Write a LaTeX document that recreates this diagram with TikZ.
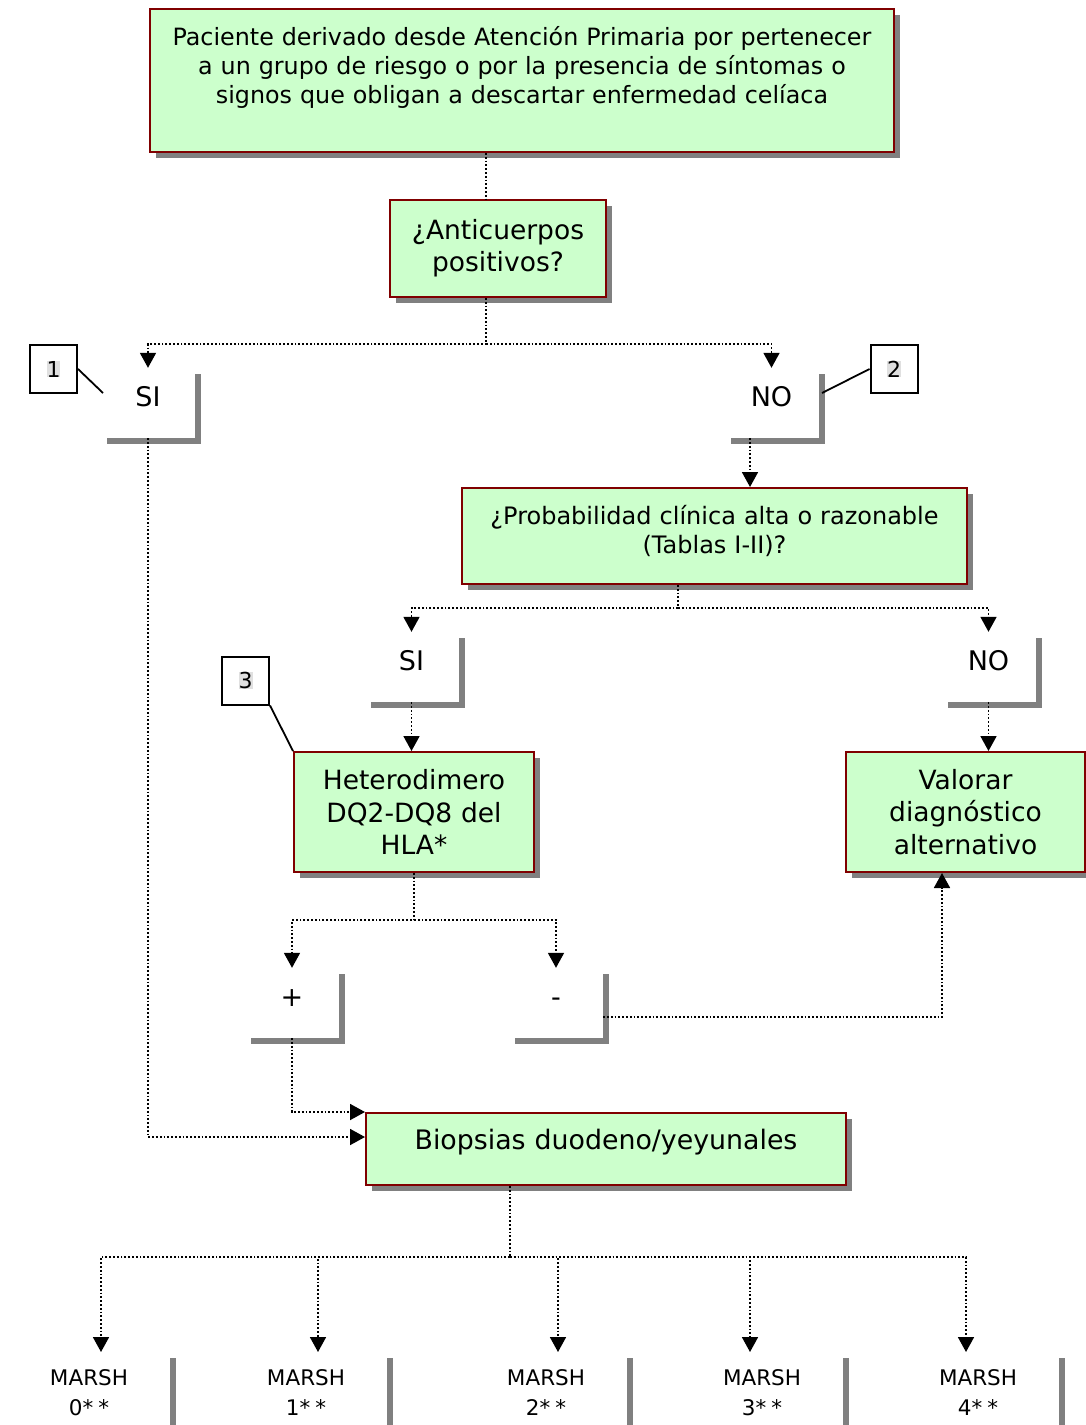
\documentclass[tikz,border=0pt]{standalone}
\usepackage{fontspec}
\setmainfont{DejaVu Sans}
\usetikzlibrary{arrows.meta,shadows}

\definecolor{boxgreen}{HTML}{CCFFCC}
\definecolor{boxred}{HTML}{800000}
\definecolor{shadowgray}{HTML}{808080}
\definecolor{hlgray}{HTML}{E0E0E0}

\newcommand{\numhl}[1]{{\setlength{\fboxsep}{0pt}\colorbox{hlgray}{#1}}}

\tikzset{
  boxshadow/.style={drop shadow={shadow xshift=6pt,shadow yshift=-6pt,fill=shadowgray,opacity=1}},
  box/.style={draw=boxred,fill=boxgreen,line width=2pt,align=center,inner sep=0pt,boxshadow},
  choice/.style={fill=white,minimum width=94pt,minimum height=70pt,inner sep=0pt,
    text height=19pt,text depth=13pt,font=\fontsize{27}{32}\selectfont,boxshadow},
  marsh/.style={fill=white,anchor=north,minimum width=162pt,minimum height=80pt,inner sep=0pt,
    align=center,font=\fontsize{21.5}{30}\selectfont,boxshadow},
  callout/.style={draw,fill=white,line width=2pt,minimum width=47pt,minimum height=48pt,
    inner sep=0pt,font=\fontsize{22}{24}\selectfont},
  dline/.style={dotted,line width=1.8pt},
  arr/.style={-{Triangle[width=16pt,length=15pt]}},
}

\begin{document}
\begin{tikzpicture}[x=1pt,y=-1pt]
\useasboundingbox (0,0) rectangle (1086,1425);

% boxes
\node[box,text width=744pt,minimum height=143pt,font=\fontsize{23.8}{29}\selectfont] (pac) at (522,80.5)
  {Paciente derivado desde Atención Primaria por pertenecer\\ a un grupo de riesgo o por la presencia de síntomas o\\ signos que obligan a descartar enfermedad celíaca\\[-6pt]\strut};
\node[box,text width=216pt,minimum height=97pt,font=\fontsize{26.5}{32}\selectfont] (anti) at (498,248.5) {¿Anticuerpos\\ positivos?};
\node[choice] (si1) at (148,403) {SI};
\node[choice] (no1) at (771.5,403) {NO};
\node[box,text width=505pt,minimum height=96pt,font=\fontsize{24}{29}\selectfont] (prob) at (714.5,536) {¿Probabilidad clínica alta o razonable\\ (Tablas I-II)?\\[-25pt]\strut};
\node[choice] (si2) at (411.5,667) {SI};
\node[choice] (no2) at (988.5,667) {NO};
\node[box,text width=240pt,minimum height=120pt,font=\fontsize{26.5}{32.5}\selectfont] (hla) at (414,812) {Heterodimero\\ DQ2-DQ8 del\\ HLA*};
\node[box,text width=239pt,minimum height=120pt,font=\fontsize{26.5}{32.5}\selectfont] (valor) at (965.5,812) {Valorar\\ diagnóstico\\ alternativo};
\node[choice] (pos) at (292,1003) {+};
\node[choice] (neg) at (556,1003) {-};
\node[box,text width=480pt,minimum height=72pt,font=\fontsize{26.8}{30}\selectfont] (biop) at (606,1149) {Biopsias duodeno/yeyunales\\[-19pt]\strut};
\foreach \n/\cx in {0/89,1/306,2/546,3/762,4/978}
  \node[marsh] (m\n) at (\cx,1352) {MARSH\\ \n*\hspace{5pt}*};

% callouts
\node[callout] (c1) at (53.5,369) {\numhl{1}};
\node[callout] (c2) at (894,369) {\numhl{2}};
\node[callout] (c3) at (245.5,680.5) {\numhl{3}};
\coordinate (t1) at (103,393);
\coordinate (t2) at (822,393);
\draw[line width=1.8pt] (c1.east) -- (t1);
\draw[line width=1.8pt] (c2.west) -- (t2);
\draw[line width=1.8pt] (c3.south east) -- (hla.north west);

% junctions
\coordinate (j1) at (486,344);
\coordinate (j2) at (678,608);
\coordinate (j3) at (414,920);
\coordinate (j4) at (510,1257);

% connectors
\draw[dline] (pac.south -| j1) -- (anti.north -| j1);
\draw[dline,arr] (anti.south -| j1) -- (j1) -| (si1.north);
\draw[dline,arr] (j1) -| (no1.north);
\draw[dline,arr] ([xshift=-21.5pt]no1.south) -- ([xshift=-21.5pt]no1.south |- prob.north);
\draw[dline,arr] (prob.south -| j2) -- (j2) -| (si2.north);
\draw[dline,arr] (j2) -| (no2.north);
\draw[dline,arr] (si2.south) -- (si2.south |- hla.north);
\draw[dline,arr] (no2.south) -- (no2.south |- valor.north);
\draw[dline,arr] (hla.south) -- (j3) -| (pos.north);
\draw[dline,arr] (j3) -| (neg.north);
\draw[dline,arr] ([yshift=-14pt]neg.east) -| ([xshift=-23.5pt]valor.south);
\draw[dline,arr] (pos.south) |- (biop.north west);
\draw[dline,arr] (si1.south) |- ([yshift=12pt]biop.west);
\draw[dline] (biop.south -| j4) -- (j4);
\foreach \n/\dx in {0/12,1/12,2/12,3/-12,4/-12}
  \draw[dline,arr] (j4) -| ([xshift=\dx pt]m\n.north);
\end{tikzpicture}
\end{document}
